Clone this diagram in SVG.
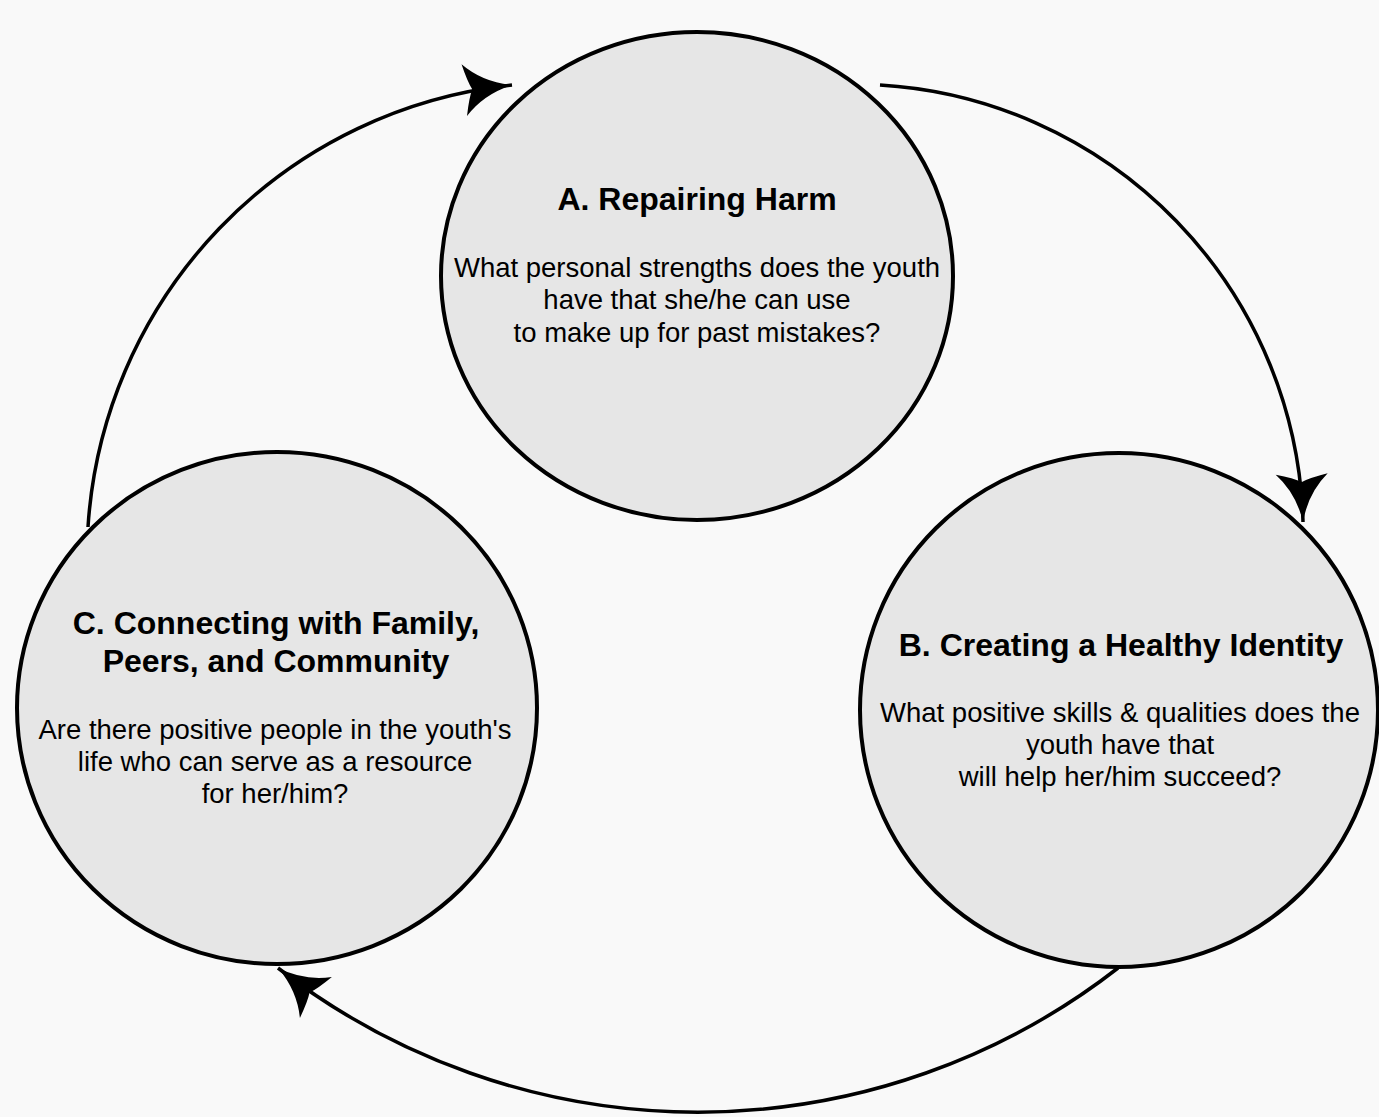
<svg xmlns="http://www.w3.org/2000/svg" width="1379" height="1117" viewBox="0 0 1379 1117">
<style>
.node ellipse{fill:#e6e6e6;stroke:#000;stroke-width:4}
.title{font-family:"Liberation Sans",Arial,sans-serif;font-weight:bold;font-size:32px;fill:#000;text-anchor:middle}
.body{font-family:"Liberation Sans",Arial,sans-serif;font-size:27.5px;fill:#000;text-anchor:middle}
.conn{fill:none;stroke:#000;stroke-width:3.5;marker-end:url(#arrow)}
</style>
<defs>
<marker id="arrow" markerUnits="userSpaceOnUse" viewBox="-55 -30 60 60" markerWidth="60" markerHeight="60" refX="0" refY="0" orient="auto" overflow="visible">
<path d="M0,0 Q-29,-6 -48,-26 Q-44,-8 -40,0 Q-44,8 -48,26 Q-29,6 0,0 Z" fill="#000"/>
</marker>
</defs>
<rect width="1379" height="1117" fill="#f9f9f9"/>
<g id="connectors">
<path class="conn" d="M88,527 A475,475 0 0,1 512,85"/>
<path class="conn" d="M880,85 A450,450 0 0,1 1303,522"/>
<path class="conn" d="M1118,968 A684,684 0 0,1 278,968"/>
</g>
<g id="node-a" class="node">
<ellipse cx="697" cy="276" rx="256" ry="244"/>
<text class="title" x="697" y="210">A. Repairing Harm</text>
<text class="body" x="697" y="277">What personal strengths does the youth</text>
<text class="body" x="697" y="309">have that she/he can use</text>
<text class="body" x="697" y="342">to make up for past mistakes?</text>
</g>
<g id="node-b" class="node">
<ellipse cx="1119" cy="710" rx="259" ry="257"/>
<text class="title" x="1121" y="656">B. Creating a Healthy Identity</text>
<text class="body" x="1120" y="722">What positive skills &amp; qualities does the</text>
<text class="body" x="1120" y="754">youth have that</text>
<text class="body" x="1120" y="786">will help her/him succeed?</text>
</g>
<g id="node-c" class="node">
<ellipse cx="277" cy="708" rx="260" ry="256"/>
<text class="title" x="276" y="634">C. Connecting with Family,</text>
<text class="title" x="276" y="672">Peers, and Community</text>
<text class="body" x="275" y="739">Are there positive people in the youth's</text>
<text class="body" x="275" y="771">life who can serve as a resource</text>
<text class="body" x="275" y="803">for her/him?</text>
</g>
</svg>
